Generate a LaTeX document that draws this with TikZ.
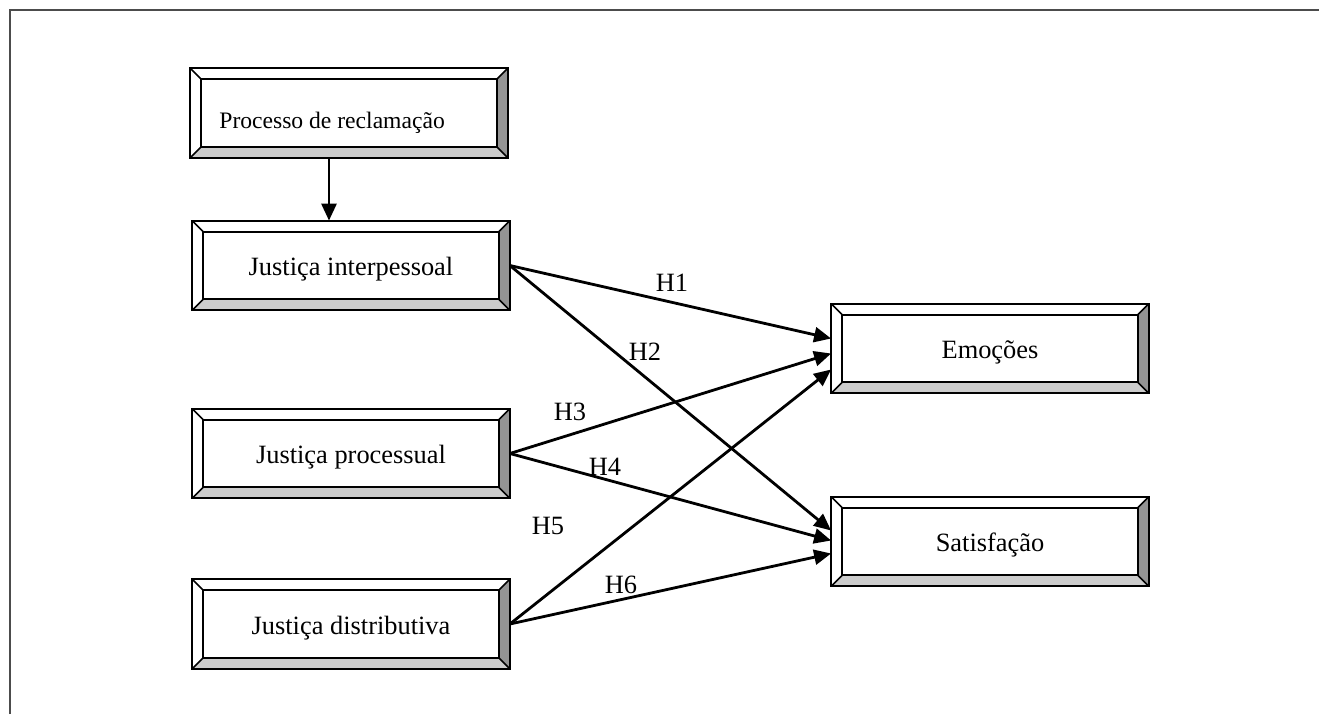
\documentclass[tikz,border=0pt]{standalone}
\usepackage{fontspec}
\setmainfont{Liberation Serif}
\usetikzlibrary{arrows.meta}
\begin{document}
\begin{tikzpicture}[x=0.5pt, y=-0.5pt, font=\fontsize{13.2}{15}\selectfont,
          box/.style={minimum width=158.5pt, minimum height=44.5pt, inner sep=0pt, text height=11pt, text depth=1pt},
          link/.style={line width=1.4pt, -{Triangle[length=8.5pt, width=7.5pt]}},
          hyp/.style={inner sep=0pt}]
        \useasboundingbox (0,0) rectangle (1319,714);
        % frame
        \draw[line width=1pt, black!70] (10,714) -- (10,10) -- (1319,10);
        % constructs
        \node[box] (proc) at (349,113) {};
        \node[anchor=base west, inner sep=0pt, font=\fontsize{11.8}{14}\selectfont] (proctext) at (219,128) {Processo de reclamação};
        \node[box] (inter) at (351,265.5) {Justiça interpessoal};
        \node[box] (procs) at (351,453.5) {Justiça processual};
        \node[box] (dist) at (351,624) {Justiça distributiva};
        \node[box] (emo) at (990,348.5) {Emoções};
        \node[box] (sat) at (990,541.5) {Satisfação};
        % bevelled frames
        \foreach \n in {proc,inter,procs,dist,emo,sat} {
          \fill[black!20] (\n.south west) -- (\n.south east) -- ([shift={(-5.5pt,5.5pt)}]\n.south east) -- ([shift={(5.5pt,5.5pt)}]\n.south west) -- cycle;
          \fill[black!42] (\n.south east) -- (\n.north east) -- ([shift={(-5.5pt,-5.5pt)}]\n.north east) -- ([shift={(-5.5pt,5.5pt)}]\n.south east) -- cycle;
          \draw[line width=1pt] (\n.south west) rectangle (\n.north east);
          \draw[line width=1pt] ([shift={(5.5pt,5.5pt)}]\n.south west) rectangle ([shift={(-5.5pt,-5.5pt)}]\n.north east);
          \draw[line width=0.8pt] (\n.south west) -- ++(5.5pt,5.5pt) (\n.south east) -- ++(-5.5pt,5.5pt)
            (\n.north west) -- ++(5.5pt,-5.5pt) (\n.north east) -- ++(-5.5pt,-5.5pt);
        }
        % paths
        \draw[link] ([xshift=-10pt]proc.south) -- ([xshift=-11pt]inter.north);
        \draw[link] (inter.east) -- ([yshift=5pt]emo.west);
        \draw[link] (inter.east) -- ([yshift=5.5pt]sat.west);
        \draw[link] (procs.east) -- ([yshift=-2.5pt]emo.west);
        \draw[link] (procs.east) -- ([yshift=0.5pt]sat.west);
        \draw[link] (dist.east) -- ([yshift=-10.5pt]emo.west);
        \draw[link] (dist.east) -- ([yshift=-6pt]sat.west);
        % hypotheses
        \node[hyp] (h1) at (672,283) {H1};
        \node[hyp] (h2) at (645,352) {H2};
        \node[hyp] (h3) at (570,412) {H3};
        \node[hyp] (h4) at (605,467) {H4};
        \node[hyp] (h5) at (548,526) {H5};
        \node[hyp] (h6) at (621,585) {H6};
      \end{tikzpicture}
\end{document}
